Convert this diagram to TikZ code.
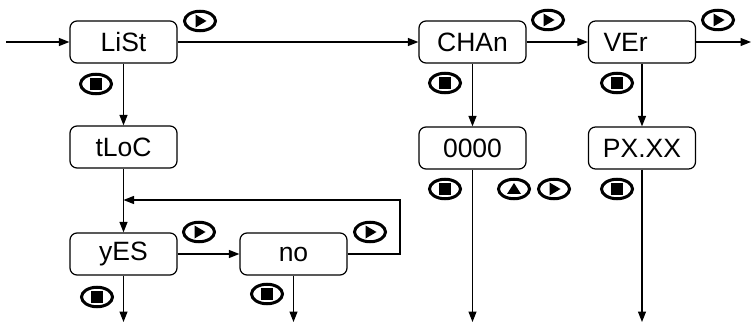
\documentclass[tikz,border=0pt]{standalone}
\usepackage{fontspec}
\setmainfont{Liberation Sans}
\usetikzlibrary{arrows.meta,shapes.geometric}
\tikzset{
  menu/.style={draw, rounded corners=7pt, line width=1.2pt, minimum width=107pt,
    minimum height=42pt, inner sep=0pt, font=\fontsize{26.5}{30}\selectfont},
  keyring/.style={draw, ellipse, line width=3pt, minimum width=31pt,
    minimum height=19.5pt, inner sep=0pt},
  playkey/.style={keyring, path picture={\fill ([shift={(-4.5pt,6.5pt)}]path picture bounding box.center)
    -- ++(11pt,-6.5pt) -- ++(-11pt,-6.5pt) -- cycle;}},
  stopkey/.style={keyring, path picture={\fill ([shift={(-6pt,-6pt)}]path picture bounding box.center)
    rectangle ++(12pt,12pt);}},
  upkey/.style={keyring, path picture={\fill ([shift={(-7pt,-5pt)}]path picture bounding box.center)
    -- ++(14pt,0pt) -- ++(-7pt,11pt) -- cycle;}},
}

\begin{document}
\begin{tikzpicture}[x=1pt,y=-1pt,line width=1.2pt,>={Triangle[length=10.5pt,width=8pt]}]
  \useasboundingbox (0,0) rectangle (752,323);
  % menu boxes
  \node[menu] (list) at (123.5,42) {LiSt};
  \node[menu] (tloc) at (123.5,147) {tLoC};
  \node[menu] (yes) at (123.5,254) {yES};
  \node[menu] (no) at (293.5,254) {no};
  \node[menu] (chan) at (472.5,42) {CHAn};
  \node[menu] (code) at (472.5,148) {0000};
  \node[menu, text width=77pt, align=left] (ver) at (642,42) {VEr};
  \node[menu] (px) at (642,148) {PX.XX};
  % keys
  \node[playkey] (listplay) at (200,21) {};
  \node[stopkey] (liststop) at (96,84) {};
  \node[playkey] (yesplay) at (199,232) {};
  \node[stopkey] (yesstop) at (97,297) {};
  \node[playkey] (noplay) at (370,232) {};
  \node[stopkey] (nostop) at (267,294) {};
  \node[playkey] (chanplay) at (548,20) {};
  \node[stopkey] (chanstop) at (445,83) {};
  \node[stopkey] (codestop) at (445,189) {};
  \node[upkey] (codeup) at (514,189) {};
  \node[playkey] (codeplay) at (554,189) {};
  \node[playkey] (verplay) at (718,20) {};
  \node[stopkey] (verstop) at (617,83) {};
  \node[stopkey] (pxstop) at (617,189) {};
  % connectors
  \coordinate (entry) at (6,42);
  \coordinate (verout) at (751,42);
  \coordinate (loopcorner) at (400,200);
  \coordinate (loopjoin) at (123.5,200);
  \coordinate (yesout) at (123.5,322);
  \coordinate (noout) at (293.5,322);
  \coordinate (codeout) at (472.5,322);
  \coordinate (pxout) at (642,322);
  \draw[->] (entry) -- (list);
  \draw[->] (list) -- (chan);
  \draw[->] (chan) -- (ver);
  \draw[->] (ver) -- (verout);
  \draw[->] (list) -- (tloc);
  \draw[->] (tloc) -- (yes);
  \draw[->] (yes) -- (no);
  \draw[->] (no.east) -| (loopcorner) -- (loopjoin);
  \draw[->] (chan) -- (code);
  \draw[->] (ver) -- (px);
  \draw[->] (yes) -- (yesout);
  \draw[->] (no) -- (noout);
  \draw[->] (code) -- (codeout);
  \draw[->] (px) -- (pxout);
\end{tikzpicture}
\end{document}
